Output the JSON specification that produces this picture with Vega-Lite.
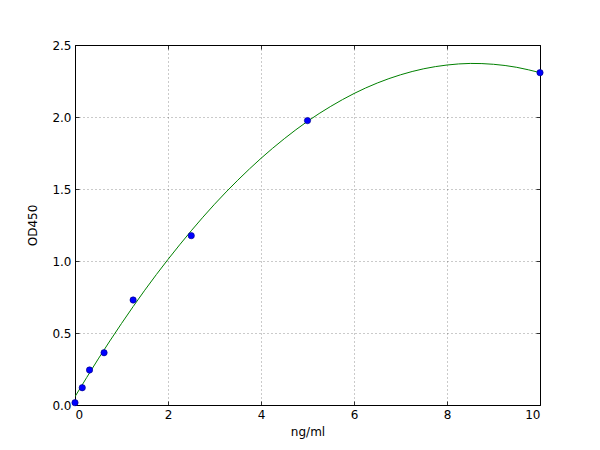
{
  "$schema": "https://vega.github.io/schema/vega-lite/v6.json",
  "width": 465,
  "height": 360,
  "autosize": "none",
  "padding": {"left": 75, "top": 45, "right": 60, "bottom": 45},
  "background": "white",
  "datasets": {
    "points": [
      {"conc": 0, "od": 0.016},
      {"conc": 0.156, "od": 0.12},
      {"conc": 0.3125, "od": 0.243},
      {"conc": 0.625, "od": 0.363},
      {"conc": 1.25, "od": 0.729},
      {"conc": 2.5, "od": 1.176},
      {"conc": 5, "od": 1.975},
      {"conc": 10, "od": 2.308}
    ],
    "curve": [
      {"conc": 0, "od": 0.058},
      {"conc": 0.5, "od": 0.32},
      {"conc": 1, "od": 0.566},
      {"conc": 1.5, "od": 0.797},
      {"conc": 2, "od": 1.011},
      {"conc": 2.5, "od": 1.21},
      {"conc": 3, "od": 1.394},
      {"conc": 3.5, "od": 1.561},
      {"conc": 4, "od": 1.713},
      {"conc": 4.5, "od": 1.849},
      {"conc": 5, "od": 1.97},
      {"conc": 5.5, "od": 2.074},
      {"conc": 6, "od": 2.163},
      {"conc": 6.5, "od": 2.236},
      {"conc": 7, "od": 2.293},
      {"conc": 7.5, "od": 2.335},
      {"conc": 8, "od": 2.361},
      {"conc": 8.5, "od": 2.372},
      {"conc": 9, "od": 2.366},
      {"conc": 9.5, "od": 2.345},
      {"conc": 10, "od": 2.308}
    ]
  },
  "layer": [
    {
      "data": {"name": "curve"},
      "mark": {"type": "line", "color": "#008000", "strokeWidth": 1, "interpolate": "natural", "clip": true},
      "encoding": {
        "x": {"field": "conc", "type": "quantitative", "scale": {"domain": [0, 10], "nice": false},
              "axis": {"title": "ng/ml", "values": [0, 2, 4, 6, 8, 10], "format": "d"}},
        "y": {"field": "od", "type": "quantitative", "scale": {"domain": [0, 2.5], "nice": false},
              "axis": {"title": "OD450", "values": [0, 0.5, 1, 1.5, 2, 2.5], "format": ".1f"}}
      }
    },
    {
      "data": {"name": "points"},
      "mark": {"type": "point", "opacity": 0},
      "encoding": {
        "x": {"field": "conc", "type": "quantitative",
              "axis": {"orient": "top", "labels": false, "title": null, "grid": false, "values": [0, 2, 4, 6, 8, 10]}},
        "y": {"field": "od", "type": "quantitative",
              "axis": {"orient": "right", "labels": false, "title": null, "grid": false, "values": [0, 0.5, 1, 1.5, 2, 2.5]}}
      }
    },
    {
      "data": {"name": "points"},
      "mark": {"type": "point", "filled": true, "color": "#0000ff", "stroke": "#000080", "strokeWidth": 0.6, "size": 40, "opacity": 1, "clip": false},
      "encoding": {
        "x": {"field": "conc", "type": "quantitative", "axis": null},
        "y": {"field": "od", "type": "quantitative", "axis": null}
      }
    }
  ],
  "resolve": {"axis": {"x": "independent", "y": "independent"}},
  "config": {
    "view": {"stroke": "#000000", "strokeWidth": 1},
    "axis": {
      "domain": false,
      "tickSize": -4,
      "tickColor": "#000000",
      "tickWidth": 0.8,
      "grid": true,
      "gridColor": "#000000",
      "gridDash": [1, 3],
      "gridWidth": 0.6,
      "gridOpacity": 0.7,
      "labelFont": "DejaVu Sans",
      "labelFontSize": 12,
      "labelColor": "#000000",
      "labelPadding": 8,
      "titleFont": "DejaVu Sans",
      "titleFontSize": 12,
      "titleFontWeight": "normal",
      "titleColor": "#000000"
    },
    "axisX": {"titlePadding": 6},
    "axisY": {"titlePadding": 12}
  }
}
